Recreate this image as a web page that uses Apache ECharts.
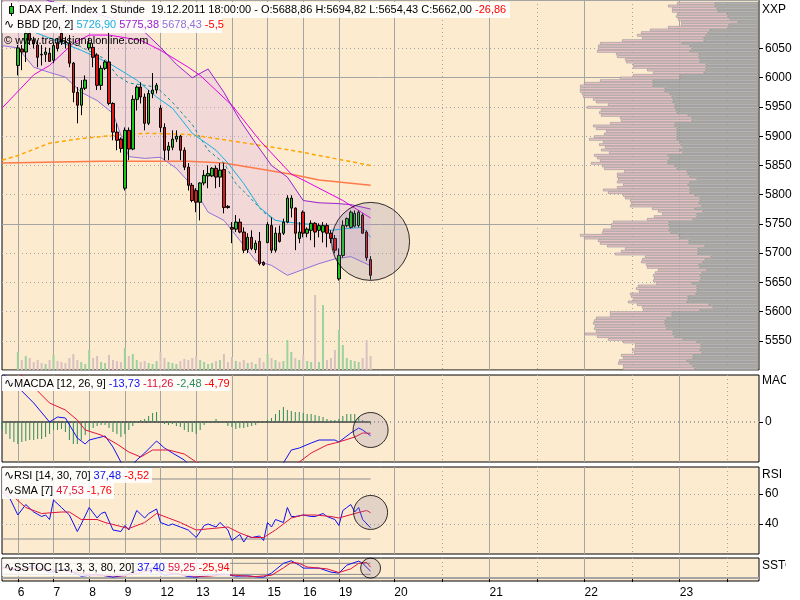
<!DOCTYPE html>
<html><head><meta charset="utf-8"><title>DAX</title>
<script src="https://cdn.jsdelivr.net/npm/echarts@6.0.0/dist/echarts.min.js"></script>
<style>html,body{margin:0;padding:0;background:#fff;}#chart{width:800px;height:600px;}</style>
</head><body><div id="chart"></div>
<script>
// ---------------- data ----------------
const firstK = -4;            // first category (4 bars before Dec 6)
const catCount = 192;         // hourly slots incl. future area
const dayStartK = [0, 9, 18, 27, 36, 45, 54, 63, 72, 81, 95, 119, 143, 167];
const dayLabels = ['6', '7', '8', '9', '12', '13', '14', '15', '16', '19', '20', '21', '22', '23'];
const futureNoonK = [107, 131, 155, 179];
const priceTicks = [5550, 5600, 5650, 5700, 5750, 5800, 5850, 5900, 5950, 6000, 6050];

// hourly candles [open, close, low, high], k = 0..89
const ohlc = [
 [6021,6051,6004,6056],[6049,6044,6013,6056],[6044,6076,6027,6081],[6076,6064,6056,6081],[6064,6058,6050,6070],
 [6056,6035,6018,6064],[6040,6039,6021,6056],[6040,6044,6027,6052],[6042,6028,6027,6051],
 [6030,6055,6025,6060],[6060,6050,6045,6068],[6076,6061,6056,6085],[6062,6060,6050,6070],[6059,6025,6018,6073],
 [6025,5975,5958,6027],[5975,5953,5922,5984],[5953,5982,5936,5996],[5982,5996,5979,6004],
 [6051,6059,6047,6068],[6052,6035,6018,6059],[6039,5987,5979,6042],[5987,6016,5979,6021],[6016,6027,6013,6030],
 [6027,5956,5953,6078],[5956,5907,5893,5958],[5907,5893,5876,5922],[5895,5879,5872,5898],
 [5811,5910,5807,5915],[5910,5878,5859,5915],[5878,5963,5876,5970],[5963,5984,5944,5987],[5984,5967,5956,5992],
 [5967,5922,5910,5973],[5922,5973,5919,5979],[5973,5979,5965,6008],[5979,5987,5973,5991],
 [5948,5915,5907,5953],[5915,5876,5859,5922],[5876,5883,5859,5890],[5881,5895,5876,5910],[5895,5900,5890,5910],
 [5900,5876,5859,5902],[5876,5847,5842,5881],[5847,5816,5807,5854],[5816,5790,5787,5820],
 [5807,5787,5770,5811],[5787,5820,5756,5821],[5820,5833,5816,5842],[5832,5836,5811,5850],[5832,5845,5830,5847],
 [5845,5830,5811,5850],[5830,5842,5813,5854],[5843,5778,5768,5854],[5780,5778,5776,5782],
 [5744,5741,5717,5753],[5741,5753,5736,5765],[5753,5736,5734,5759],[5736,5705,5700,5744],[5706,5727,5700,5734],
 [5727,5708,5705,5739],[5706,5717,5700,5722],[5720,5682,5679,5736],[5684,5680,5678,5686],
 [5718,5749,5717,5753],[5747,5705,5700,5761],[5705,5734,5701,5744],[5734,5720,5718,5747],[5734,5753,5731,5759],
 [5753,5794,5751,5799],[5777,5794,5761,5799],[5777,5734,5705,5778],[5725,5736,5717,5753],
 [5770,5734,5727,5773],[5734,5741,5727,5744],[5739,5751,5722,5756],[5751,5736,5710,5753],[5739,5747,5727,5751],
 [5736,5747,5718,5753],[5747,5734,5710,5751],[5734,5725,5717,5739],[5725,5705,5700,5731],
 [5656,5696,5653,5708],[5696,5747,5692,5756],[5747,5759,5744,5761],[5744,5770,5742,5773],[5746,5768,5744,5773],
 [5747,5770,5744,5773],[5765,5734,5734,5768],[5736,5692,5687,5739],[5688.86,5662.00,5654.43,5694.82]
];
const volume = [
 18,10,14,12,8,10,7,6,10, 15,9,8,7,12,16,10,8,6, 20,12,14,8,7,15,10,9,8,
 22,14,16,10,8,9,7,6,9, 18,12,8,7,6,9,11,10,12, 14,10,8,6,7,9,10,16,8,
 13,9,8,10,7,8,6,12,8, 16,12,10,8,9,30,18,12,10, 15,9,8,75,8,65,10,12,20,
 40,25,12,10,9,8,12,30,14
];

// Bollinger bands (k, value)
const bbK     = [-4,   0,    4,    8,    12,   16,   20,   24,   28,   32,   36,   40,   44,   48,   52,   56,   60,   64,   68,   72,   76,   80,   84,   89];
const bbUpper = [6200, 6170, 6144, 6131, 6125, 6119, 6109, 6101, 6130, 6078, 6052, 6023, 6000, 6015, 5975, 5928, 5888, 5850, 5830, 5790, 5786, 5785, 5783, 5775.38];
const bbLower = [6055, 6051, 6018, 6009, 6001, 5975, 5961, 5939, 5865, 5862, 5864, 5845, 5815, 5770, 5756, 5722, 5687, 5679, 5662, 5672, 5682, 5690, 5694, 5678.43];
const bbMid = [[3,6081],[16,6047],[23,6025],[30,5996],[35,5967],[39,5948],[44,5905],[50,5876],[53,5854],[57,5819],[61,5778],[65,5756],[68,5753],[74,5749],[79,5739],[83,5742],[87,5744],[89,5726.9]];
const magentaMA = [[-4,5948],[4,6005],[8,6021],[14,6059],[18,6073],[23,6073],[31,6064],[36,6047],[43,6018],[46,6004],[54,5953],[61,5893],[69,5835],[72,5825],[82,5790],[89,5760]];
const orangeMA = [[-4,5859],[0,5867],[8,5888],[16,5896],[25,5902],[33,5905],[43,5903],[53,5893],[69,5876],[89,5850]];
const coralMA = [[-4,5854],[21,5857],[43,5857],[52,5854],[60,5845],[69,5835],[76,5825],[89,5816]];
const tealMA = [[8,6068],[15,6056],[22,6032],[25,6004],[28,5991],[35,5984],[39,5958],[44,5920],[48,5876],[52,5854],[55,5819],[58,5799],[62,5770],[65,5756]];

// MACD
const macdHist = [-8,-12,-17,-20,
 -22,-20,-19,-18,-18,-17,-17,-15,-12, -8,-8,-7,-10,-18,-22,-22,-18,-13, -9,-6,-4,-3,-3,-6,-10,-12,-15,
 -12,-8,-4,-1,2,3,6,9,10, 1,-2,-3,-2,-4,-5,-8,-10,-10, -12,-8,-3,-1,1,3,1,-1,-4,
 -5,-7,-6,-6,-5,-4,-3,-1,0, 2,4,8,12,15,12,11,10,10, 9,8,8,7,6,5,3,2,2, 3,6,8,8,8,5,2,0,-2.48];
const macdLine = [[-4,50],[-3,45],[0,35],[4,19],[8,0],[10,5],[12,4],[15,-16],[17,-22],[18,-18],[20,-16],[22,-14],[24,-25],[26,-40],[27,-48],[28,-47],[30,-38],[32,-31],[35,-19],[37,-26],[39,-31],[42,-38],[43,-42],[46,-50],[50,-55],[55,-60],[60,-58],[64,-50],[67,-41],[69,-28],[71,-26],[74,-21],[76,-18],[80,-18],[81,-20],[84,-11],[86,-6],[87,-8],[89,-13.73]];
const macdSignal = [[-4,60],[0,50],[4,35],[8,19],[12,12],[15,2],[17,-8],[21,-13],[25,-22],[28,-30],[31,-35],[34,-28],[38,-28],[42,-32],[45,-40],[50,-48],[55,-55],[60,-56],[65,-52],[69,-45],[71,-40],[74,-31],[78,-23],[81,-20],[85,-15],[87,-11],[89,-11.26]];

// RSI + SMA
const rsi = [[-4,61],[-2,57],[0,46],[2,53],[4,48],[6,45],[7,46],[8,43],[9,56],[11,51],[13,46],[15,35],[16,40],[18,51],[20,44],[21,47],[22,48],[24,36],[26,35],[27,39],[28,36],[30,49],[32,44],[33,47],[35,50],[36,41],[38,39],[39,40],[41,38],[43,36],[45,31],[47,39],[48,40],[50,38],[51,41],[53,36],[54,29],[56,33],[57,28],[58,32],[59,31],[61,32],[62,29],[63,41],[64,38],[65,43],[67,41],[68,51],[69,45],[70,45],[72,46],[74,45],[75,45],[77,47],[78,45],[80,43],[81,39],[82,49],[83,51],[84,53],[85,48],[86,51],[87,43],[89,37.48]];
const rsiSma = [[-4,62],[-1,58],[2,51],[6,47],[11,48],[13,48],[16,43],[20,43],[22,41],[28,37],[32,41],[35,47],[38,44],[41,41],[45,36],[49,37],[53,38],[56,34],[59,31],[62,31],[65,36],[69,44],[72,46],[75,46],[79,45],[81,44],[85,47],[88,49],[89,47.53]];

// Slow stochastic
const stochK = [[-4,60],[0,40],[4,70],[8,30],[12,50],[16,10],[20,20],[24,5],[27,15],[30,40],[34,55],[37,15],[40,25],[43,8],[45,5],[48,15],[52,22],[55,10],[58,12],[61,5],[62,5],[64,27],[67,80],[69,94],[71,70],[72,54],[76,54],[79,32],[81,27],[83,70],[86,92],[87,80],[89,37.4]];
const stochD = [[-4,55],[0,50],[4,55],[8,45],[12,40],[16,25],[20,15],[24,12],[27,12],[30,25],[34,45],[37,35],[40,22],[43,15],[45,10],[48,10],[52,18],[55,15],[58,10],[60,8],[64,15],[67,55],[69,85],[71,80],[73,60],[78,50],[81,30],[84,50],[86,80],[88,85],[89,59.25]];

// volume-at-price profile (rows top -> bottom): lengths of the gray part and of the pink part
const profileGray = [
 43,43,41,40,31,30,28,20,29,30, 48,50,52,54,54,76,68,66,68,59, 59,58,58,52,52,52,54,78,78,105,
 105,105,93,93,88,86,85,85,83,83, 82,81,70,66,66,83,83,81,81,81, 81,81,78,77,75,78,75,90,88,90,
 90,83,81,71,70,68,61,68,70,68, 68,68,63,58,58,59,56,63,55,61, 61,65,89,89,88,89,87,79,78,69,
 69,53,60,60,60,47,53,55,59,58, 51,56,58,57,58,66,61,61,61,62, 70,70,71,49,45,58,86,86,91,93,
 93,92,91,85,85,83,75,61,57,57, 58,56,65,65,71,68,65,63];
const profilePink = [
 38,47,45,46,50,52,52,57,48,60, 60,67,69,62,82,82,92,94,93,83, 82,75,74,73,73,59,51,47,60,53,
 69,73,85,85,88,89,80,77,67,88, 75,78,87,72,71,65,82,81,71,73, 83,88,77,82,78,79,74,74,73,68,
 77,73,73,63,71,73,79,73,65,73, 87,82,72,75,70,68,72,43,45,35, 43,46,56,58,59,66,69,99,96,91,
 89,98,73,77,83,66,63,62,53,53, 49,47,47,47,47,36,59,61,58,66, 57,55,59,72,71,57,62,62,71,71,
 72,71,73,77,88,78,75,74,66,66, 68,68,72,70,68,72,70,72];

// annotation circles around the last bar (value at centre)
const lastK = 89;
const circleMain = 5720, circleMacd = -8, circleRsi = 47.7, circleStoch = 54;

// ---------------- helpers ----------------
const idx = k => k - firstK;
const cats = Array.from({length: catCount}, (_, i) => String(i + firstK));
const daySet = new Set(dayStartK.map(idx));
const noonSet = new Set(futureNoonK.map(idx));
const tickSet = new Set([...daySet, ...noonSet]);
const dayLabelMap = {};
dayStartK.forEach((k, j) => { dayLabelMap[idx(k)] = dayLabels[j]; });
const pts = arr => arr.map(p => [idx(p[0]), p[1]]);
const BG = '#fdebd0';
const GRID = '#a4a4a4';
const FONT = '"Liberation Sans", Arial, "DejaVu Sans", sans-serif';
const lastI = idx(lastK);
const plain = v => String(v);

function xAxesFor(g, withLabels) {
  return [{
    type: 'category', gridIndex: g, data: cats, boundaryGap: false,
    axisLine: {show: false},
    axisTick: withLabels ? {show: true, interval: i => tickSet.has(i), length: 4, lineStyle: {color: '#000'}} : {show: false},
    axisLabel: withLabels ? {show: true, interval: i => daySet.has(i), formatter: (v, i) => dayLabelMap[i] || '',
      align: 'left', margin: 3, color: '#000', fontSize: 12, fontFamily: FONT} : {show: false},
    splitLine: {show: true, interval: i => daySet.has(i), lineStyle: {color: GRID, width: 1}},
    offset: withLabels ? 3 : 0
  }, {
    type: 'category', gridIndex: g, data: cats, boundaryGap: false,
    axisLine: {show: false}, axisTick: {show: false}, axisLabel: {show: false},
    splitLine: {show: true, interval: i => noonSet.has(i), lineStyle: {color: GRID, type: [1, 3]}}
  }];
}
function flatLine(xA, yA, v, k0, k1, color, type, width) {
  return {type: 'line', xAxisIndex: xA, yAxisIndex: yA, data: [[idx(k0), v], [idx(k1), v]], symbol: 'none',
    silent: true, lineStyle: {color: color, type: type || 'solid', width: width || 1}, z: 1};
}
function lineS(xA, yA, data, color, width, type, z) {
  return {type: 'line', xAxisIndex: xA, yAxisIndex: yA, data: pts(data), symbol: 'none', silent: true,
    lineStyle: {color: color, width: width || 1, type: type || 'solid'}, z: z || 3};
}
function circle(xA, yA, v, size) {
  return {type: 'scatter', xAxisIndex: xA, yAxisIndex: yA, data: [[lastI, v]], symbol: 'circle', symbolSize: size,
    silent: true, clip: false, itemStyle: {color: 'rgba(140,125,165,0.28)', borderColor: '#000', borderWidth: 1}, z: 10};
}

const candleData = cats.map((c, i) => { const k = i + firstK; return (k >= 0 && k < ohlc.length) ? ohlc[k] : '-'; });
const volData = volume.map((v, k) => ({value: [idx(k), v],
  itemStyle: {color: ohlc[k][1] >= ohlc[k][0] ? '#9fd09f' : '#d9c0c0'}}));
const histData = macdHist.map((v, j) => [j, v]);
const bandBase = bbK.map((k, j) => [idx(k), bbLower[j]]);
const bandFill = bbK.map((k, j) => [idx(k), bbUpper[j] - bbLower[j]]);
const bbUp = bbK.map((k, j) => [k, bbUpper[j]]);
const bbLo = bbK.map((k, j) => [k, bbLower[j]]);
const profileRows = profileGray.map((v, i) => 'row' + i);

const option = {
  animation: false,
  backgroundColor: '#fff',
  grid: [
    {left: 2, top: 0, width: 757, height: 370, show: true, backgroundColor: BG, borderColor: '#000', borderWidth: 1},
    {left: 2, top: 375, width: 757, height: 87, show: true, backgroundColor: BG, borderColor: '#000', borderWidth: 1},
    {left: 2, top: 467, width: 757, height: 87, show: true, backgroundColor: BG, borderColor: '#000', borderWidth: 1},
    {left: 2, top: 558, width: 757, height: 23, show: true, backgroundColor: BG, borderColor: '#000', borderWidth: 1},
    {left: 570, top: 2, width: 188, height: 368, show: false}
  ],
  xAxis: [
    ...xAxesFor(0, false), ...xAxesFor(1, false), ...xAxesFor(2, false), ...xAxesFor(3, true),
    {type: 'value', gridIndex: 4, min: 0, max: 188, inverse: true, show: false}
  ],
  yAxis: [
    {type: 'value', gridIndex: 0, position: 'right', min: 5500, max: 6133, interval: 50,
      axisLine: {show: false},
      axisTick: {show: true, customValues: priceTicks, length: 4, lineStyle: {color: '#000'}},
      axisLabel: {customValues: priceTicks, formatter: plain, color: '#000', fontSize: 12, margin: 6, fontFamily: FONT},
      splitLine: {show: true, lineStyle: {color: GRID, type: [1, 3]}}},
    {type: 'value', gridIndex: 0, position: 'right', min: 5500, max: 6133, interval: 250,
      axisLine: {show: false}, axisTick: {show: false}, axisLabel: {show: false},
      splitLine: {show: true, lineStyle: {color: GRID}}},
    {type: 'value', gridIndex: 0, min: 0, max: 370, show: false},
    {type: 'value', gridIndex: 1, position: 'right', min: -40, max: 47,
      axisLine: {show: false},
      axisTick: {show: true, customValues: [0], length: 4, lineStyle: {color: '#000'}},
      axisLabel: {customValues: [0], formatter: plain, color: '#000', fontSize: 12, margin: 6, fontFamily: FONT},
      splitLine: {show: false}},
    {type: 'value', gridIndex: 2, position: 'right', min: 20, max: 78, interval: 20,
      axisLine: {show: false},
      axisTick: {show: true, customValues: [40, 60], length: 4, lineStyle: {color: '#000'}},
      axisLabel: {customValues: [40, 60], formatter: plain, color: '#000', fontSize: 12, margin: 6, fontFamily: FONT},
      splitLine: {show: true, lineStyle: {color: GRID, type: [1, 3]}}},
    {type: 'value', gridIndex: 3, min: -16, max: 109, show: false},
    {type: 'category', gridIndex: 4, data: profileRows, inverse: true, show: false}
  ],
  series: [
    // ----- main panel -----
    {type: 'line', xAxisIndex: 0, yAxisIndex: 0, data: bandBase, stack: 'bb', symbol: 'none', silent: true,
      lineStyle: {opacity: 0}, z: 1},
    {type: 'line', xAxisIndex: 0, yAxisIndex: 0, data: bandFill, stack: 'bb', symbol: 'none', silent: true,
      lineStyle: {opacity: 0}, areaStyle: {color: 'rgba(222,178,226,0.32)', opacity: 1}, z: 1},
    {type: 'bar', xAxisIndex: 0, yAxisIndex: 2, data: volData, barWidth: 2, silent: true, z: 2},
    {type: 'candlestick', xAxisIndex: 0, yAxisIndex: 0, data: candleData, barWidth: 3, silent: true, z: 3,
      itemStyle: {color: '#19c819', color0: '#e01818', borderColor: '#000', borderColor0: '#000', borderWidth: 1}},
    lineS(0, 0, coralMA, '#ff7a4a', 1.5),
    lineS(0, 0, orangeMA, '#ffa500', 1.5, [4, 3]),
    lineS(0, 0, magentaMA, '#e600e6', 1),
    lineS(0, 0, tealMA, '#138f8f', 1, [3, 3]),
    lineS(0, 0, bbUp, '#9b1fd1', 1),
    lineS(0, 0, bbLo, '#9370db', 1),
    lineS(0, 0, bbMid, '#18b0e2', 1),
    circle(0, 0, circleMain, 78),
    // ----- MACD -----
    {type: 'line', xAxisIndex: 2, yAxisIndex: 3, data: [[0, 0], [catCount - 1, 0]], symbol: 'none', silent: true,
      lineStyle: {color: GRID, type: [1, 3]}, z: 1},
    {type: 'bar', xAxisIndex: 2, yAxisIndex: 3, data: histData, barWidth: 1, silent: true, itemStyle: {color: '#2e8b57'}, z: 2},
    flatLine(2, 3, 0, firstK, lastK, '#404040', 'solid', 1.5),
    lineS(2, 3, macdLine, '#1010f0', 1),
    lineS(2, 3, macdSignal, '#e0143c', 1),
    circle(2, 3, circleMacd, 35),
    // ----- RSI -----
    flatLine(4, 4, 70, firstK, lastK, '#8c8c8c'),
    flatLine(4, 4, 30, firstK, lastK, '#8c8c8c'),
    lineS(4, 4, rsi, '#1010f0', 1),
    lineS(4, 4, rsiSma, '#e0143c', 1),
    circle(4, 4, circleRsi, 34),
    // ----- SSTOC -----
    {type: 'line', xAxisIndex: 6, yAxisIndex: 5, data: [[0, 0], [catCount - 1, 0]], symbol: 'none', silent: true,
      lineStyle: {color: GRID}, z: 1},
    flatLine(6, 5, 80, firstK, lastK, '#8c8c8c'),
    flatLine(6, 5, 20, firstK, lastK, '#8c8c8c'),
    lineS(6, 5, stochK, '#1010f0', 1),
    lineS(6, 5, stochD, '#e0143c', 1),
    circle(6, 5, circleStoch, 20),
    // ----- volume profile -----
    {type: 'bar', xAxisIndex: 8, yAxisIndex: 6, data: profileGray, stack: 'p', barCategoryGap: '0%', silent: true,
      itemStyle: {color: '#b9b9b9', borderColor: '#8c8c8c', borderWidth: 0.7}, z: 4},
    {type: 'bar', xAxisIndex: 8, yAxisIndex: 6, data: profilePink, stack: 'p', barCategoryGap: '0%', silent: true,
      itemStyle: {color: '#f2c6cb', borderColor: '#9a9a9a', borderWidth: 0.7}, z: 4}
  ],
  graphic: [
    // legend boxes
    {type: 'rect', shape: {x: 2, y: 2, width: 508, height: 16}, style: {fill: 'rgba(255,255,255,0.88)'}, z: 50, silent: true},
    {type: 'rect', shape: {x: 2, y: 18, width: 220, height: 15}, style: {fill: 'rgba(255,255,255,0.88)'}, z: 50, silent: true},
    {type: 'line', shape: {x1: 11.5, y1: 3, x2: 11.5, y2: 16}, style: {stroke: '#000', lineWidth: 1}, z: 51, silent: true},
    {type: 'rect', shape: {x: 9.5, y: 6.5, width: 4, height: 7}, style: {fill: '#19c819', stroke: '#000', lineWidth: 1}, z: 52, silent: true},
    {type: 'text', x: 19, y: 10, z: 53, silent: true, style: {
      text: '{a|DAX Perf. Index 1 Stunde  19.12.2011 18:00:00 - O:5688,86 H:5694,82 L:5654,43 C:5662,00 }{r|-26,86}',
      verticalAlign: 'middle', font: '11px ' + FONT,
      rich: {a: {fill: '#000', font: '11px ' + FONT}, r: {fill: '#ff0000', font: '11px ' + FONT}}}},
    {type: 'text', x: 4, y: 25, z: 53, silent: true, style: {
      text: '{w|∿} {a|BBD [20, 2] }{c|5726,90 }{p|5775,38 }{l|5678,43 }{r|-5,5}',
      verticalAlign: 'middle', font: '11px ' + FONT,
      rich: {w: {fill: '#000', font: '12px "DejaVu Sans"'}, a: {fill: '#000', font: '11px ' + FONT},
        c: {fill: '#18b0e2', font: '11px ' + FONT}, p: {fill: '#9b1fd1', font: '11px ' + FONT},
        l: {fill: '#9370db', font: '11px ' + FONT}, r: {fill: '#ff0000', font: '11px ' + FONT}}}},
    {type: 'text', x: 4, y: 41, z: 53, silent: true, style: {text: '© www.tradesignalonline.com', fill: '#000',
      verticalAlign: 'middle', font: '11px ' + FONT}},
    // MACD legend
    {type: 'rect', shape: {x: 2, y: 376, width: 228, height: 15}, style: {fill: 'rgba(255,255,255,0.88)'}, z: 50, silent: true},
    {type: 'text', x: 4, y: 383.5, z: 53, silent: true, style: {
      text: '{w|∿}{a|MACDA [12, 26, 9] }{b|-13,73 }{c|-11,26 }{g|-2,48 }{r|-4,79}',
      verticalAlign: 'middle', font: '11px ' + FONT,
      rich: {w: {fill: '#000', font: '12px "DejaVu Sans"'}, a: {fill: '#000', font: '11px ' + FONT},
        b: {fill: '#1010f0', font: '11px ' + FONT}, c: {fill: '#e0143c', font: '11px ' + FONT},
        g: {fill: '#2e8b57', font: '11px ' + FONT}, r: {fill: '#ff0000', font: '11px ' + FONT}}}},
    // RSI legend
    {type: 'rect', shape: {x: 2, y: 468, width: 150, height: 15}, style: {fill: 'rgba(255,255,255,0.88)'}, z: 50, silent: true},
    {type: 'rect', shape: {x: 2, y: 483, width: 112, height: 16}, style: {fill: 'rgba(255,255,255,0.88)'}, z: 50, silent: true},
    {type: 'text', x: 4, y: 475.5, z: 53, silent: true, style: {
      text: '{w|∿}{a|RSI [14, 30, 70] }{b|37,48 }{r|-3,52}', verticalAlign: 'middle', font: '11px ' + FONT,
      rich: {w: {fill: '#000', font: '12px "DejaVu Sans"'}, a: {fill: '#000', font: '11px ' + FONT},
        b: {fill: '#1010f0', font: '11px ' + FONT}, r: {fill: '#ff0000', font: '11px ' + FONT}}}},
    {type: 'text', x: 4, y: 491, z: 53, silent: true, style: {
      text: '{w|∿}{a|SMA [7] }{c|47,53 }{r|-1,76}', verticalAlign: 'middle', font: '11px ' + FONT,
      rich: {w: {fill: '#000', font: '12px "DejaVu Sans"'}, a: {fill: '#000', font: '11px ' + FONT},
        c: {fill: '#e0143c', font: '11px ' + FONT}, r: {fill: '#ff0000', font: '11px ' + FONT}}}},
    // SSTOC legend
    {type: 'rect', shape: {x: 2, y: 559, width: 228, height: 17}, style: {fill: 'rgba(255,255,255,0.82)'}, z: 50, silent: true},
    {type: 'text', x: 4, y: 567.5, z: 53, silent: true, style: {
      text: '{w|∿}{a|SSTOC [13, 3, 3, 80, 20] }{b|37,40 }{c|59,25 }{r|-25,94}', verticalAlign: 'middle', font: '11px ' + FONT,
      rich: {w: {fill: '#000', font: '12px "DejaVu Sans"'}, a: {fill: '#000', font: '11px ' + FONT},
        b: {fill: '#1010f0', font: '11px ' + FONT}, c: {fill: '#e0143c', font: '11px ' + FONT},
        r: {fill: '#ff0000', font: '11px ' + FONT}}}},
    // right side panel names
    {type: 'text', x: 762, y: 10, z: 53, silent: true, style: {text: 'XXP', fill: '#000', verticalAlign: 'middle', font: '12px ' + FONT}},
    {type: 'text', x: 762, y: 381, z: 53, silent: true, style: {text: 'MACDA', fill: '#000', verticalAlign: 'middle', font: '12px ' + FONT}},
    {type: 'text', x: 762, y: 475, z: 53, silent: true, style: {text: 'RSI', fill: '#000', verticalAlign: 'middle', font: '12px ' + FONT}},
    {type: 'text', x: 762, y: 566, z: 53, silent: true, style: {text: 'SSTOC', fill: '#000', verticalAlign: 'middle', font: '12px ' + FONT}},
    {type: 'rect', shape: {x: 786, y: 372, width: 14, height: 20}, style: {fill: '#fff'}, z: 60, silent: true},
    {type: 'rect', shape: {x: 786, y: 556, width: 14, height: 22}, style: {fill: '#fff'}, z: 60, silent: true}
  ]
};

const chart = echarts.init(document.getElementById('chart'), null, {renderer: 'canvas'});
chart.setOption(option);
</script>
</body></html>
